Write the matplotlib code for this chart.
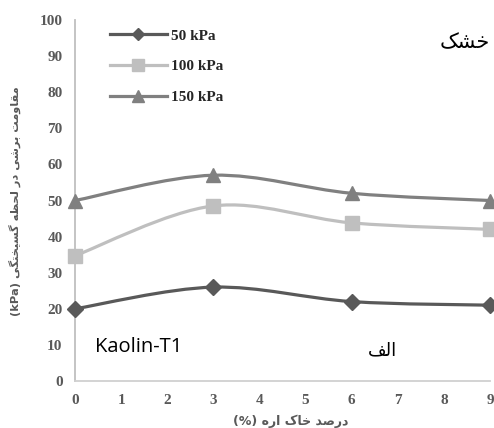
import matplotlib
matplotlib.use("Agg")
import matplotlib.pyplot as plt
from matplotlib.path import Path
from matplotlib.patches import PathPatch
from matplotlib.lines import Line2D

# Sawdust content (%) and shear strength at failure (kPa)
sawdust = [0, 3, 6, 9]
series_labels = ["50 kPa", "100 kPa", "150 kPa"]
strength_50 = [20, 26, 22, 21]
strength_100 = [34.7, 48.5, 43.8, 42]
strength_150 = [50, 57, 52, 50]
x_ticks = list(range(0, 10))
y_ticks = list(range(0, 101, 10))

colors = ["#595959", "#BFBFBF", "#808080"]
markers = ["D", "s", "^"]
msizes = [8, 10.5, 10.5]

# Persian strings written with presentation forms, in display order
ylabel_fa = ("(kPa) "
             "\uFBFD\uFB95\uFE98\uFEA8\uFBFF\uFEB4\uFB94 "
             "\uFEEA\uFEC8\uFEA4\uFEDF "
             "\uFEAD\uFEA9 "
             "\uFBFD\uFEB7\uFEAE\uFE91 "
             "\uFE96\uFEE3\uFEED\uFE8E\uFED8\uFEE3")
xlabel_fa = ("(%) "
             "\uFEE9\uFEAD\uFE8D "
             "\uFB8E\uFE8E\uFEA7 "
             "\uFEAA\uFEBB\uFEAD\uFEA9")
dry_fa = "\uFB8F\uFEB8\uFEA7"
alef_fa = "\uFED2\uFEDF\uFE8D"

serif = ["Liberation Serif", "DejaVu Serif"]
plt.rcParams["font.family"] = serif
plt.rcParams["font.weight"] = "bold"


def smooth_path(xs, ys):
    """Cubic Bezier path through the points (Catmull-Rom style control points)."""
    pts = list(zip(xs, ys))
    n = len(pts)
    verts = [pts[0]]
    codes = [Path.MOVETO]
    for i in range(n - 1):
        p0 = pts[i - 1] if i > 0 else pts[i]
        p1 = pts[i]
        p2 = pts[i + 1]
        p3 = pts[i + 2] if i + 2 < n else pts[i + 1]
        c1 = (p1[0] + (p2[0] - p0[0]) / 6.0, p1[1] + (p2[1] - p0[1]) / 6.0)
        c2 = (p2[0] - (p3[0] - p1[0]) / 6.0, p2[1] - (p3[1] - p1[1]) / 6.0)
        verts += [c1, c2, p2]
        codes += [Path.CURVE4] * 3
    return Path(verts, codes)


fig = plt.figure(figsize=(4.94, 4.28), dpi=100)
ax = fig.add_axes([75 / 494, 1 - 381 / 428, (490 - 75) / 494, (381 - 20) / 428])

handles = []
for vals, c, m, ms in zip([strength_50, strength_100, strength_150],
                          colors, markers, msizes):
    patch = PathPatch(smooth_path(sawdust, vals), facecolor="none",
                      edgecolor=c, lw=2.3, transform=ax.transData,
                      clip_on=False, zorder=2)
    ax.add_patch(patch)
    ax.plot(sawdust, vals, ls="none", marker=m, ms=ms, color=c,
            mec=c, clip_on=False, zorder=3)
    handles.append(Line2D([], [], color=c, lw=2.3, marker=m, ms=ms * 0.8,
                          mec=c))

ax.set_xlim(0, 9)
ax.set_ylim(0, 100)
ax.set_xticks(x_ticks, [str(v) for v in x_ticks],
              fontfamily=serif, fontweight="bold")
ax.set_yticks(y_ticks, [str(v) for v in y_ticks],
              fontfamily=serif, fontweight="bold")
ax.tick_params(length=0, labelsize=11, labelcolor="#595959", pad=9)

for side in ["top", "right"]:
    ax.spines[side].set_visible(False)
ax.spines["left"].set_color("#BFBFBF")
ax.spines["bottom"].set_color("#D0D0D0")
ax.spines["left"].set_linewidth(1.3)
ax.spines["bottom"].set_linewidth(1.3)

leg = fig.legend(handles, series_labels, loc="upper left",
                 bbox_to_anchor=(110 / 494, 1 - 29 / 428),
                 frameon=False, handlelength=3.7, handletextpad=0.3,
                 labelspacing=1.12, borderpad=0, borderaxespad=0,
                 prop={"family": serif, "weight": "bold", "size": 11})
for t in leg.get_texts():
    t.set_color("#262626")

fig.text(15 / 494, 1 - 201 / 428, ylabel_fa, rotation=90, ha="center",
         va="center", fontsize=8.2, fontweight="bold", color="#595959",
         family=["DejaVu Sans"])
fig.text(291 / 494, 1 - 421 / 428, xlabel_fa, ha="center", va="center",
         fontsize=9, fontweight="bold", color="#595959",
         family=["DejaVu Sans"])
fig.text(465 / 494, 1 - 42 / 428, dry_fa, ha="center", va="center",
         fontsize=15, fontweight="normal", color="black",
         family=["DejaVu Sans"])
fig.text(382 / 494, 1 - 350 / 428, alef_fa, ha="center", va="center",
         fontsize=13, fontweight="normal", color="black",
         family=["DejaVu Sans"])
fig.text(139 / 494, 1 - 347 / 428, "Kaolin-T1", ha="center", va="center",
         fontsize=14.5, fontweight="normal", color="black",
         family=["Open Sans"])

fig.savefig("out.png", dpi=100)
